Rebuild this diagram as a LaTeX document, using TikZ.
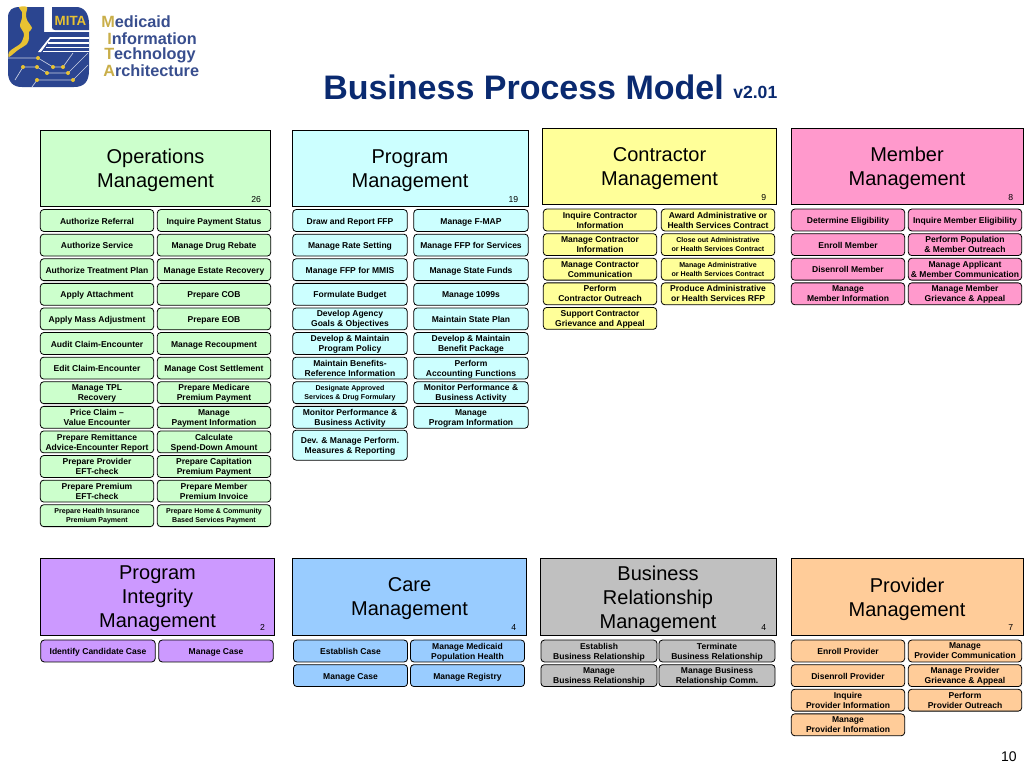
\documentclass[tikz,border=0pt]{standalone}
\usepackage{fontspec}
\setmainfont{Liberation Sans}
\usetikzlibrary{positioning}
\definecolor{mitablue}{HTML}{2B4590}
\definecolor{mitagold}{HTML}{E8C232}
\definecolor{titleblue}{HTML}{0A2A70}
\definecolor{opsgreen}{HTML}{CCFFCC}
\definecolor{progcyan}{HTML}{CCFFFF}
\definecolor{contryellow}{HTML}{FFFF99}
\definecolor{membpink}{HTML}{FF99CC}
\definecolor{integpurple}{HTML}{CC99FF}
\definecolor{careblue}{HTML}{99CCFF}
\definecolor{bizgrey}{HTML}{C0C0C0}
\definecolor{provorange}{HTML}{FFCC99}
\begin{document}
\begin{tikzpicture}[x=0.75pt,y=-0.75pt,on grid,node distance=18.45pt,
		headbox/.style={rectangle,draw=black,line width=0.6pt,inner sep=0pt,minimum height=57.5pt,align=center,
			font=\fontsize{15}{18}\selectfont,text depth=-3pt},
		procbox/.style={rectangle,rounded corners=2.5pt,draw=black,line width=0.6pt,inner sep=0pt,minimum height=16.4pt,
			align=center,font=\fontsize{6.4}{7.5}\bfseries\selectfont,text depth=0pt,execute at begin node={\rule{0pt}{5.5pt}}},
		tiny/.style={font=\fontsize{5.3}{6.6}\bfseries\selectfont},
		countlbl/.style={anchor=south east,inner sep=0pt,xshift=-7.5pt,yshift=3.5pt,font=\fontsize{6.5}{7}\selectfont},
		opsbox/.style={procbox,fill=opsgreen,minimum width=85pt},
		progbox/.style={procbox,fill=progcyan,minimum width=85.8pt},
		contrbox/.style={procbox,fill=contryellow,minimum width=85pt},
		membbox/.style={procbox,fill=membpink,minimum width=85pt},
		integbox/.style={procbox,fill=integpurple,minimum width=85.8pt},
		carebox/.style={procbox,fill=careblue,minimum width=85.5pt},
		bizbox/.style={procbox,fill=bizgrey,minimum width=87pt},
		provbox/.style={procbox,fill=provorange,minimum width=85pt},
		logostripe/.style={fill=white},
		tracewire/.style={draw=white!75!mitablue,line width=0.5pt},
		logotext/.style={anchor=west,inner sep=0pt,text=mitablue!85!gray,font=\fontsize{12.2}{14}\bfseries\selectfont}]
		\useasboundingbox (0,0) rectangle (1024,768);

		% logo
		\fill[mitablue] (8,18) .. controls (8,10) and (12,7) .. (20,7) -- (44,7) -- (44,32) -- (89,32) -- (89,70)
			.. controls (89,82) and (84,87) .. (74,87) -- (22,87) .. controls (13,87) and (8,82) .. (8,72) -- cycle;
		\fill[mitablue] (52,7) -- (76,7) .. controls (84,7) and (89,13) .. (89,24) -- (89,30) -- (55,30)
			.. controls (53,30) and (52,29) .. (52,27) -- cycle;
		\fill[logostripe] (50,37) rectangle (89,39);
		\fill[logostripe] (48,42) rectangle (89,43.5);
		\fill[logostripe] (46,46.5) rectangle (89,48);
		\fill[logostripe] (43,50.5) rectangle (89,52);
		\fill[logostripe] (38,52) -- (50,37) -- (51,38) -- (41,52) -- cycle;
		\fill[mitagold] plot[smooth cycle,tension=0.5] coordinates {(19,7)(27,7)(26,14)(27,20)(32,28)(29,32)(29,38)(27,44)(18,50)(9,57)(9,52)(14,48)(21,43)(24,34)(20,26)(22,18)(22,12)};
		\draw[tracewire] (8,58) -- (38,58) -- (53,67) -- (63,67) -- (73,53);
		\draw[tracewire] (15,80) -- (23,67) -- (37,67) -- (47,73) -- (68,73) -- (88,53);
		\draw[tracewire] (32,87) -- (37,80) -- (73,80) -- (88,65);
		\foreach \dotx/\doty in {38/58,53/67,63/67,23/67,37/67,47/73,68/73,37/80,73/80}
			\fill[mitagold] (\dotx,\doty) circle (2);
		\node[anchor=center,inner sep=0pt,text=mitagold,font=\fontsize{10}{10}\bfseries\selectfont] (mitaword) at (70.5,21) {MITA};
		\node[logotext] (logoM) at (101,22) {\textcolor{mitagold!70!gray}{M}edicaid};
		\node[logotext] (logoI) at (107,38.5) {\textcolor{mitagold!70!gray}{I}nformation};
		\node[logotext] (logoT) at (104,55) {\textcolor{mitagold!70!gray}{T}echnology};
		\node[logotext] (logoA) at (103,71) {\textcolor{mitagold!70!gray}{A}rchitecture};

		% title
		\node[anchor=base west,inner sep=0pt,text=titleblue,font=\fontsize{25.5}{28}\bfseries\selectfont] (title) at (323,99) {Business Process Model};
		\node[anchor=base west,inner sep=0pt,text=titleblue,font=\fontsize{13.2}{14}\bfseries\selectfont] (version) at (733,98) {v2.01};
		\node[anchor=base east,inner sep=0pt,font=\fontsize{10.5}{12}\selectfont] (pagenum) at (1017,761) {10};

		% operations
		\node[headbox,fill=opsgreen,minimum width=173pt] (opsHead) at (155.5,168.5) {Operations\\Management};
		\node[countlbl] (opsCount) at (opsHead.south east) {26};
		\node[opsbox] (authRef) at (97,220.5) {Authorize Referral};
		\node[opsbox] (authSvc) [below=of authRef] {Authorize Service};
		\node[opsbox] (authTreat) [below=of authSvc] {Authorize Treatment Plan};
		\node[opsbox] (applyAtt) [below=of authTreat] {Apply Attachment};
		\node[opsbox] (applyAdj) [below=of applyAtt] {Apply Mass Adjustment};
		\node[opsbox] (auditClaim) [below=of applyAdj] {Audit Claim-Encounter};
		\node[opsbox] (editClaim) [below=of auditClaim] {Edit Claim-Encounter};
		\node[opsbox] (tplRec) [below=of editClaim] {Manage TPL\\Recovery};
		\node[opsbox] (priceClaim) [below=of tplRec] {Price Claim --\\Value Encounter};
		\node[opsbox] (remit) [below=of priceClaim] {Prepare Remittance\\Advice-Encounter Report};
		\node[opsbox] (provEft) [below=of remit] {Prepare Provider\\EFT-check};
		\node[opsbox] (premEft) [below=of provEft] {Prepare Premium\\EFT-check};
		\node[opsbox,tiny] (healthIns) [below=of premEft] {Prepare Health Insurance\\Premium Payment};
		\node[opsbox] (inqPay) [right=87.75pt of authRef] {Inquire Payment Status};
		\node[opsbox] (drugReb) [below=of inqPay] {Manage Drug Rebate};
		\node[opsbox] (estateRec) [below=of drugReb] {Manage Estate Recovery};
		\node[opsbox] (prepCob) [below=of estateRec] {Prepare COB};
		\node[opsbox] (prepEob) [below=of prepCob] {Prepare EOB};
		\node[opsbox] (recoup) [below=of prepEob] {Manage Recoupment};
		\node[opsbox] (costSet) [below=of recoup] {Manage Cost Settlement};
		\node[opsbox] (medicare) [below=of costSet] {Prepare Medicare\\Premium Payment};
		\node[opsbox] (payInfo) [below=of medicare] {Manage\\Payment Information};
		\node[opsbox] (spendDown) [below=of payInfo] {Calculate\\Spend-Down Amount};
		\node[opsbox] (capit) [below=of spendDown] {Prepare Capitation\\Premium Payment};
		\node[opsbox] (membInv) [below=of capit] {Prepare Member\\Premium Invoice};
		\node[opsbox,tiny] (homeComm) [below=of membInv] {Prepare Home \& Community\\Based Services Payment};

		% program
		\node[headbox,fill=progcyan,minimum width=177pt] (progHead) at (410,168.5) {Program\\Management};
		\node[countlbl] (progCount) at (progHead.south east) {19};
		\node[progbox] (drawFfp) at (350,220.5) {Draw and Report FFP};
		\node[progbox] (rateSet) [below=of drawFfp] {Manage Rate Setting};
		\node[progbox] (ffpMmis) [below=of rateSet] {Manage FFP for MMIS};
		\node[progbox] (budget) [below=of ffpMmis] {Formulate Budget};
		\node[progbox] (goals) [below=of budget] {Develop Agency\\Goals \& Objectives};
		\node[progbox] (policy) [below=of goals] {Develop \& Maintain\\Program Policy};
		\node[progbox] (benRef) [below=of policy] {Maintain Benefits-\\Reference Information};
		\node[progbox,tiny] (formulary) [below=of benRef] {Designate Approved\\Services \& Drug Formulary};
		\node[progbox] (monPerfA) [below=of formulary] {Monitor Performance \&\\Business Activity};
		\node[progbox,minimum height=22.5pt] (devPerf) [below=20.9pt of monPerfA] {Dev. \& Manage Perform.\\Measures \& Reporting};
		\node[progbox] (fmap) [right=90.75pt of drawFfp] {Manage F-MAP};
		\node[progbox] (ffpSvc) [below=of fmap] {Manage FFP for Services};
		\node[progbox] (stateFund) [below=of ffpSvc] {Manage State Funds};
		\node[progbox] (m1099) [below=of stateFund] {Manage 1099s};
		\node[progbox] (statePlan) [below=of m1099] {Maintain State Plan};
		\node[progbox] (benPack) [below=of statePlan] {Develop \& Maintain\\Benefit Package};
		\node[progbox] (acct) [below=of benPack] {Perform\\Accounting Functions};
		\node[progbox] (monPerfB) [below=of acct] {Monitor Performance \&\\Business Activity};
		\node[progbox] (progInfo) [below=of monPerfB] {Manage\\Program Information};

		% contractor
		\node[headbox,fill=contryellow,minimum width=175pt] (contrHead) at (659.5,166.5) {Contractor\\Management};
		\node[countlbl] (contrCount) at (contrHead.south east) {9};
		\node[contrbox] (inqContr) at (600,220) {Inquire Contractor\\Information};
		\node[contrbox] (mgContr) [below=of inqContr] {Manage Contractor\\Information};
		\node[contrbox] (contrComm) [below=of mgContr] {Manage Contractor\\Communication};
		\node[contrbox] (contrOut) [below=of contrComm] {Perform\\Contractor Outreach};
		\node[contrbox] (contrGriev) [below=of contrOut] {Support Contractor\\Grievance and Appeal};
		\node[contrbox] (award) [right=88.5pt of inqContr] {Award Administrative or\\Health Services Contract};
		\node[contrbox,tiny] (closeOut) [below=of award] {Close out Administrative\\or Health Services Contract};
		\node[contrbox,tiny] (mgAdmin) [below=of closeOut] {Manage Administrative\\or Health Services Contract};
		\node[contrbox] (produce) [below=of mgAdmin] {Produce Administrative\\or Health Services RFP};

		% member
		\node[headbox,fill=membpink,minimum width=174pt] (membHead) at (907,166.5) {Member\\Management};
		\node[countlbl] (membCount) at (membHead.south east) {8};
		\node[membbox] (detElig) at (848,220) {Determine Eligibility};
		\node[membbox] (enrollMemb) [below=of detElig] {Enroll Member};
		\node[membbox] (disenroll) [below=of enrollMemb] {Disenroll Member};
		\node[membbox] (membInfo) [below=of disenroll] {Manage\\Member Information};
		\node[membbox] (inqMemb) [right=87.75pt of detElig] {Inquire Member Eligibility};
		\node[membbox] (popOut) [below=of inqMemb] {Perform Population\\\& Member Outreach};
		\node[membbox] (applComm) [below=of popOut] {Manage Applicant\\\& Member Communication};
		\node[membbox] (membGriev) [below=of applComm] {Manage Member\\Grievance \& Appeal};

		% program integrity
		\node[headbox,fill=integpurple,minimum width=176pt] (integHead) at (157.5,597) {Program\\Integrity\\Management};
		\node[countlbl] (integCount) at (integHead.south east) {2};
		\node[integbox] (identCase) at (98,651) {Identify Candidate Case};
		\node[integbox] (integCase) [right=88.5pt of identCase] {Manage Case};

		% care
		\node[headbox,fill=careblue,minimum width=175pt] (careHead) at (409.5,597) {Care\\Management};
		\node[countlbl] (careCount) at (careHead.south east) {4};
		\node[carebox] (estCase) at (350.5,651) {Establish Case};
		\node[carebox] (careCase) [below=of estCase] {Manage Case};
		\node[carebox] (popHealth) [right=87.75pt of estCase] {Manage Medicaid\\Population Health};
		\node[carebox] (registry) [below=of popHealth] {Manage Registry};

		% business relationship
		\node[headbox,fill=bizgrey,minimum width=177pt] (bizHead) at (658,597) {Business\\Relationship\\Management};
		\node[countlbl] (bizCount) at (bizHead.south east) {4};
		\node[bizbox] (estBiz) at (599,651) {Establish\\Business Relationship};
		\node[bizbox] (mgBiz) [below=of estBiz] {Manage\\Business Relationship};
		\node[bizbox] (termBiz) [right=88.5pt of estBiz] {Terminate\\Business Relationship};
		\node[bizbox] (bizComm) [below=of termBiz] {Manage Business\\Relationship Comm.};

		% provider
		\node[headbox,fill=provorange,minimum width=174pt] (provHead) at (907,597) {Provider\\Management};
		\node[countlbl] (provCount) at (provHead.south east) {7};
		\node[provbox] (enrollProv) at (848,651) {Enroll Provider};
		\node[provbox] (disenProv) [below=of enrollProv] {Disenroll Provider};
		\node[provbox] (inqProv) [below=of disenProv] {Inquire\\Provider Information};
		\node[provbox] (provInfo) [below=of inqProv] {Manage\\Provider Information};
		\node[provbox] (provComm) [right=87.75pt of enrollProv] {Manage\\Provider Communication};
		\node[provbox] (provGriev) [below=of provComm] {Manage Provider\\Grievance \& Appeal};
		\node[provbox] (provOut) [below=of provGriev] {Perform\\Provider Outreach};
	\end{tikzpicture}
\end{document}
